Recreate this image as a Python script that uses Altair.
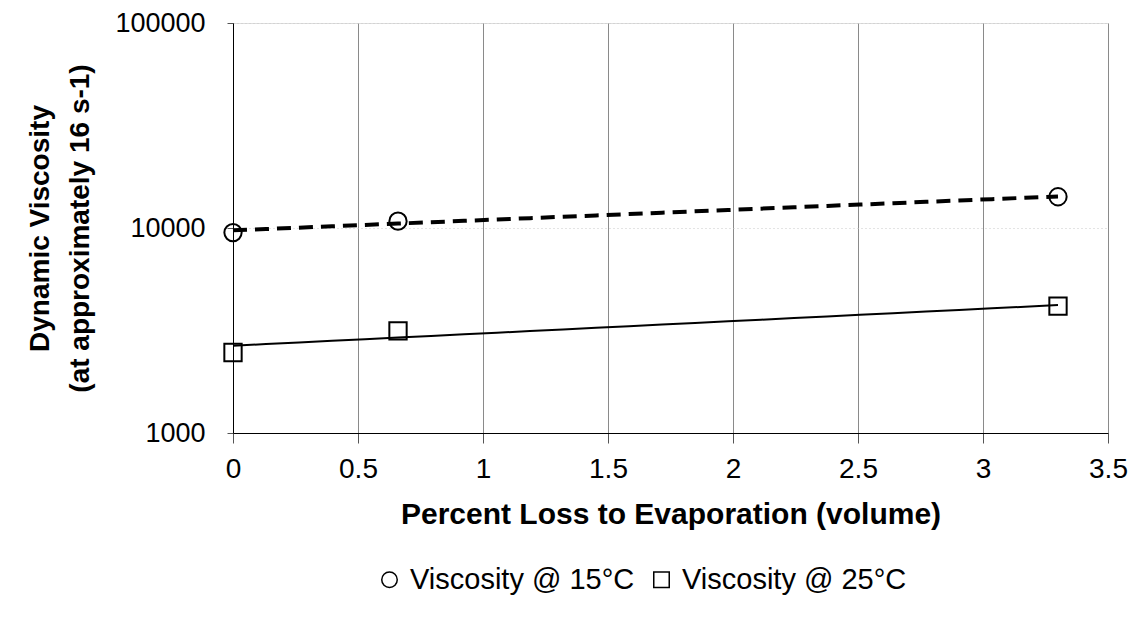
import altair as alt
import pandas as pd

# Data
loss_pct = [0.0, 0.66, 3.3]
visc_15c = [9500, 10800, 14200]
visc_25c = [2470, 3150, 4160]
series_names = ["Viscosity @ 15°C", "Viscosity @ 25°C"]
x_ticks = [0, 0.5, 1, 1.5, 2, 2.5, 3, 3.5]
y_ticks = [1000, 10000, 100000]

rows = []
for x, v in zip(loss_pct, visc_15c):
    rows.append({"x": x, "y": v, "series": series_names[0]})
for x, v in zip(loss_pct, visc_25c):
    rows.append({"x": x, "y": v, "series": series_names[1]})
df = pd.DataFrame(rows)

FONT = "Liberation Sans"

xenc = alt.X(
    "x:Q",
    scale=alt.Scale(domain=[0, 3.5], nice=False, zero=False),
    axis=alt.Axis(
        values=x_ticks, labelExpr="format(datum.value, '~g')",
        title="Percent Loss to Evaporation (volume)",
        titleFont=FONT, titleFontSize=30, titleFontWeight="bold", titleColor="black",
        titlePadding=16, labelFont=FONT, labelFontSize=28, labelColor="black",
        labelPadding=12, tickSize=10, tickColor="#555", domainColor="black",
        grid=True, gridColor="#8a8a8a", gridWidth=1, labelFlush=False,
    ),
)
yenc = alt.Y(
    "y:Q",
    scale=alt.Scale(type="log", domain=[1000, 100000], nice=False),
    axis=alt.Axis(
        values=y_ticks, format="d",
        title=["Dynamic Viscosity", "(at approximately 16 s-1)"],
        titleFont=FONT, titleFontSize=28, titleFontWeight="bold", titleColor="black",
        titlePadding=20, titleLineHeight=40,
        labelFont=FONT, labelFontSize=27, labelColor="black", labelPadding=22,
        tickSize=6, tickColor="#555", domainColor="black",
        grid=True, gridColor="#c8c8c8", gridDash=[1, 3], gridWidth=1,
    ),
)

base = alt.Chart(df)

line15 = base.transform_filter(
    alt.datum.series == series_names[0]
).transform_regression(
    "x", "y", method="exp", extent=[0, 3.3]
).mark_line(color="black", strokeWidth=4, strokeDash=[14, 8]).encode(x=xenc, y=yenc)

line25 = base.transform_filter(
    alt.datum.series == series_names[1]
).transform_regression(
    "x", "y", method="exp", extent=[0, 3.3]
).mark_line(color="black", strokeWidth=2).encode(x=xenc, y=yenc)

points = base.mark_point(
    filled=False, color="black", strokeWidth=2, size=300, opacity=1
).encode(
    x=xenc, y=yenc,
    shape=alt.Shape(
        "series:N",
        scale=alt.Scale(domain=series_names, range=["circle", "square"]),
        legend=alt.Legend(
            title=None, orient="none", direction="horizontal",
            legendX=142, legendY=542,
            labelFont=FONT, labelFontSize=29, labelColor="black", labelLimit=400,
            symbolSize=240, symbolStrokeWidth=1.5, symbolStrokeColor="black",
            symbolFillColor="white",
            columnPadding=12, labelOffset=6,
        ),
    ),
)

chart = (line15 + line25 + points).properties(
    width=875, height=410,
    padding={"left": 225, "top": 15, "right": 20, "bottom": 180},
    autosize=alt.AutoSizeParams(type="none"),
).configure_view(
    stroke="#666", strokeDash=[2, 2], strokeWidth=1
).configure(background="white")

chart.save("out.html", embed_options={"renderer": "svg", "actions": False})
